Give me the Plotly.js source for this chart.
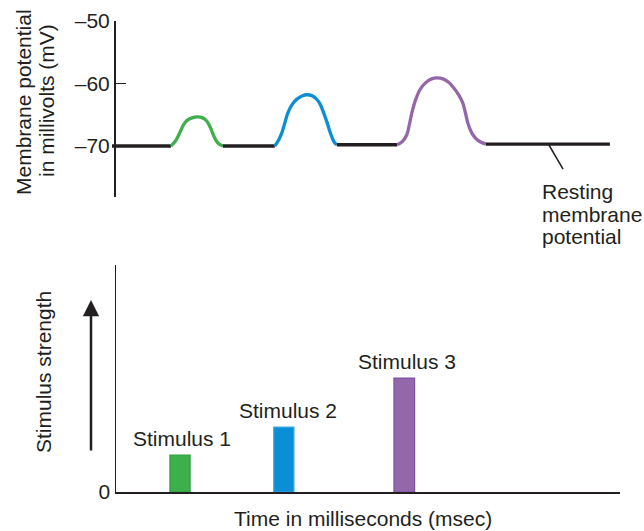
<!DOCTYPE html>
<html>
<head>
<meta charset="utf-8">
<script src="https://cdn.plot.ly/plotly-3.0.1.min.js"></script>
<style>html,body{margin:0;padding:0;background:#fff;}#chart{width:644px;height:531px;}</style>
</head>
<body>
<div id="chart"></div>
<script>
// ---- Membrane potential (top panel), time in ms, potential in mV ----
const restA_t = [-0.8, 10.9];
const restA_v = [-70, -70];
const green_t = [10.9, 11.8, 12.7, 13.4, 14.1, 15.1, 16.1, 17.2, 18.0, 18.7, 19.2, 19.7, 20.3, 21.2];
const green_v = [-70, -69.2, -67.8, -66.6, -65.9, -65.5, -65.35, -65.5, -66.0, -67.0, -68.0, -68.9, -69.6, -70];
const restB_t = [21.2, 31.5];
const restB_v = [-70, -70];
const blue_t = [31.5, 32.3, 32.9, 33.5, 34.1, 35.0, 35.9, 36.9, 37.9, 39.0, 39.9, 40.5, 41.2, 41.9, 42.4, 42.9, 43.3, 43.8];
const blue_v = [-70, -69.0, -67.9, -66.3, -64.7, -63.3, -62.5, -62.0, -61.8, -62.0, -62.6, -63.3, -64.7, -66.3, -67.6, -68.7, -69.4, -69.8];
const restC_t = [43.8, 55.8];
const restC_v = [-69.8, -69.8];
const purple_t = [55.8, 56.8, 57.7, 58.2, 58.7, 59.4, 60.3, 61.4, 62.5, 63.7, 65.0, 66.0, 66.9, 67.9, 68.8, 69.3, 69.8, 70.3, 70.8, 71.8, 73.4];
const purple_v = [-69.8, -69.3, -68.2, -66.6, -64.7, -62.7, -61.0, -59.9, -59.3, -59.1, -59.3, -59.8, -60.6, -61.7, -63.1, -64.6, -66.3, -67.4, -68.2, -69.1, -69.7];
const restD_t = [73.4, 98.0];
const restD_v = [-69.7, -69.7];

const mvTicks = [-50, -60, -70];
const mvTickText = ['\u201350', '\u201360', '\u201370'];

// ---- Stimuli (bottom panel) ----
const stimLabels = ['Stimulus 1', 'Stimulus 2', 'Stimulus 3'];
const stimTimes = [12.7, 33.3, 57.2];
const stimStrength = [1.63, 2.86, 5.02];
const stimWidth = [4.0, 4.0, 4.1];

const cGreen = '#3db04b', cBlue = '#0a8fd6', cPurple = '#9466aa', cBlack = '#231f20';
const stimFill = [cGreen, cBlue, cPurple];
const stimEdge = ['#2f9d45', '#3aa6e0', '#7d52a0'];

const font = '"Liberation Sans", Arial, Helvetica, sans-serif';
const H = 531, W = 644;
const py = p => (H - p) / H;
const px = p => p / W;

function seg(t, v, color) {
  return {x: t, y: v, type: 'scatter', mode: 'lines', xaxis: 'x', yaxis: 'y',
    line: {color: color, width: 3.3, shape: 'spline', smoothing: 1}, hoverinfo: 'skip', showlegend: false};
}

const traces = [
  seg(restA_t, restA_v, cBlack),
  seg(green_t, green_v, cGreen),
  seg(restB_t, restB_v, cBlack),
  seg(blue_t, blue_v, cBlue),
  seg(restC_t, restC_v, cBlack),
  seg(purple_t, purple_v, cPurple),
  seg(restD_t, restD_v, cBlack),
  {x: stimTimes, y: stimStrength, width: stimWidth, type: 'bar', xaxis: 'x2', yaxis: 'y2',
   marker: {color: stimFill, line: {color: stimEdge, width: 1.2}}, showlegend: false, hoverinfo: 'skip'}
];

const txt = (text, x, y, opts) => Object.assign({text: text, x: x, y: y, xref: 'paper', yref: 'paper',
  showarrow: false, font: {family: font, size: 21, color: cBlack}}, opts || {});

const annotations = [
  txt('Membrane potential', px(23), py(102), {textangle: -90, xanchor: 'center', yanchor: 'middle'}),
  txt('in millivolts (mV)', px(46), py(101), {textangle: -90, xanchor: 'center', yanchor: 'middle'}),
  txt('Stimulus strength', px(43), py(372), {textangle: -90, xanchor: 'center', yanchor: 'middle'}),
  txt('Time in milliseconds (msec)', px(363), py(518), {xanchor: 'center', yanchor: 'middle'}),
  txt('Resting', px(540), py(191), {xanchor: 'left', yanchor: 'middle'}),
  txt('membrane', px(540), py(214), {xanchor: 'left', yanchor: 'middle'}),
  txt('potential', px(540), py(236), {xanchor: 'left', yanchor: 'middle'}),
  // stimulus strength arrow
  {x: px(91), y: py(300), xref: 'paper', yref: 'paper', text: '', showarrow: true,
   ax: 0, ay: 152, axref: 'pixel', ayref: 'pixel', arrowhead: 2, arrowsize: 1.3, arrowwidth: 2.5, arrowcolor: cBlack}
];
stimLabels.forEach((lab, i) => {
  annotations.push({text: lab, x: stimTimes[i], y: stimStrength[i], xref: 'x2', yref: 'y2',
    xanchor: 'center', yanchor: 'bottom', xshift: [2, 4, 3][i], yshift: 3, showarrow: false,
    font: {family: font, size: 21, color: cBlack}});
});

const layout = {
  width: W, height: H,
  margin: {l: 0, r: 0, t: 0, b: 0},
  paper_bgcolor: '#fff', plot_bgcolor: 'rgba(0,0,0,0)',
  font: {family: font, size: 21, color: cBlack},
  showlegend: false,
  bargap: 0,
  xaxis: {domain: [px(111), px(620)], range: [-0.992, 100], visible: false, fixedrange: true},
  yaxis: {domain: [py(197), py(21)], range: [-78.16, -50], anchor: 'free', position: px(114),
    showline: true, linecolor: cBlack, linewidth: 1.5, ticks: 'inside', ticklen: 10, tickwidth: 1.5,
    tickcolor: cBlack, tickvals: mvTicks, ticktext: mvTickText, showgrid: false, zeroline: false,
    tickfont: {family: font, size: 21, color: cBlack}, automargin: false, ticklabelstandoff: 0},
  xaxis2: {domain: [px(116), px(620)], range: [0, 100], anchor: 'y2', showline: true, linecolor: cBlack,
    linewidth: 1.5, showticklabels: false, ticks: '', showgrid: false, zeroline: false, automargin: false},
  yaxis2: {domain: [py(492), py(265)], range: [0, 10], anchor: 'x2', showline: true, linecolor: cBlack,
    linewidth: 1.5, ticks: '', tickvals: [0], ticktext: ['0'], showgrid: false, zeroline: false,
    tickfont: {family: font, size: 21, color: cBlack}, automargin: false},
  shapes: [
    {type: 'line', xref: 'x', yref: 'y', x0: 85.9, y0: -69.84, x1: 88.7, y1: -73.7,
     line: {color: cBlack, width: 1.5}}
  ],
  annotations: annotations
};

Plotly.newPlot('chart', traces, layout, {staticPlot: true, displayModeBar: false});
</script>
</body>
</html>
